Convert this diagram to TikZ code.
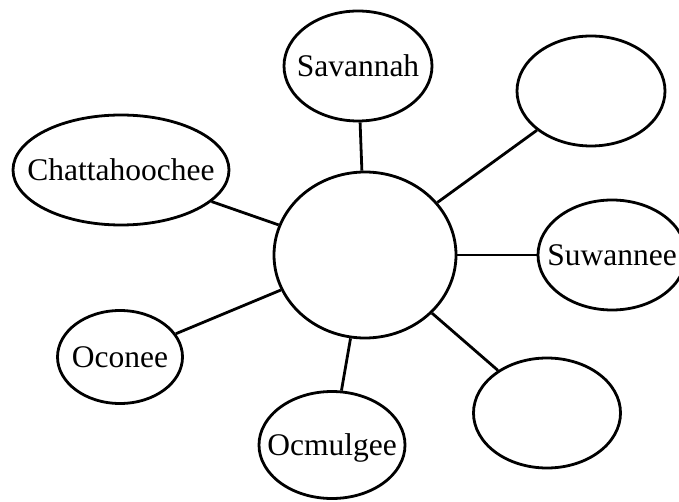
\documentclass[tikz,border=0pt]{standalone}
\usepackage{fontspec}
\setmainfont{Liberation Serif}
\usetikzlibrary{shapes.geometric}
\tikzset{
	riv/.style={draw, ellipse, line width=2.8pt, inner sep=0pt, fill=white},
	lbl/.style={font=\fontsize{31.5}{36}\selectfont, text height=21pt, text depth=0pt, inner sep=0pt},
	ln/.style={line width=2.8pt},
}

\begin{document}
\begin{tikzpicture}[x=1pt,y=-1pt]
	\fill [white] (0,0) rectangle (679,502);
	\useasboundingbox (0,0) rectangle (679,502);

	\node [riv, minimum width=182pt, minimum height=166pt] (hub) at (365,255) {};
	\node [riv, minimum width=148pt, minimum height=110pt, label={[lbl]center:Savannah}] (sav) at (358,66) {};
	\node [riv, minimum width=148pt, minimum height=110pt] (blanka) at (591,91) {};
	\node [riv, minimum width=148pt, minimum height=110pt, label={[lbl]center:Suwannee}] (suw) at (612,255) {};
	\node [riv, minimum width=216pt, minimum height=110pt, label={[lbl]center:Chattahoochee}] (chat) at (121,170) {};
	\node [riv, minimum width=125pt, minimum height=93pt, label={[lbl]center:Oconee}] (oco) at (120,357) {};
	\node [riv, minimum width=146pt, minimum height=107pt, label={[lbl]center:Ocmulgee}] (ocm) at (332,445) {};
	\node [riv, minimum width=147pt, minimum height=110pt] (blankb) at (547,413) {};

	\draw [ln] (hub) -- (sav);
	\draw [ln] (hub) -- (blanka);
	\draw [ln] (hub) -- (suw);
	\draw [ln] (hub) -- (chat);
	\draw [ln] (hub) -- (oco);
	\draw [ln] (hub) -- (ocm);
	\draw [ln] (hub) -- (blankb);
\end{tikzpicture}
\end{document}
